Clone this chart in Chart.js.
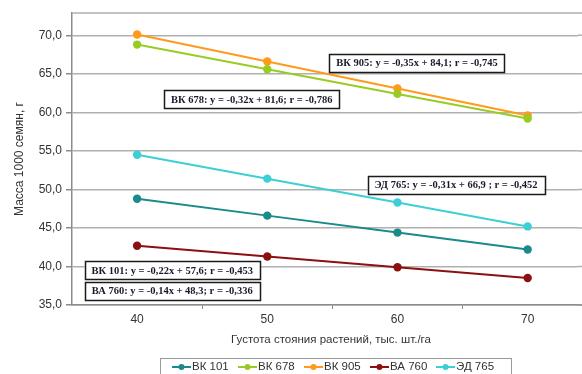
<!DOCTYPE html>
<html>
<head>
<meta charset="utf-8">
<script src="https://cdn.jsdelivr.net/npm/chart.js@4/dist/chart.umd.min.js"></script>
<style>
  html, body { margin: 0; padding: 0; background: #fff; overflow: hidden; }
  #wrap { width: 582px; height: 374px; position: relative; }
</style>
</head>
<body>
<div id="wrap"><canvas id="c" width="582" height="374"></canvas></div>
<script>
// Plant density, thousand plants per hectare
const densities = [40, 50, 60, 70];

// 1000-seed weight, g, per hybrid
const seriesNames = ['ВК 101', 'ВК 678', 'ВК 905', 'ВА 760', 'ЭД 765'];
const vk101 = [48.8, 46.6, 44.4, 42.2];
const vk678 = [68.8, 65.6, 62.4, 59.2];
const vk905 = [70.1, 66.6, 63.1, 59.6];
const va760 = [42.7, 41.3, 39.9, 38.5];
const ed765 = [54.5, 51.4, 48.3, 45.2];

// Axis ticks
const yTicks = [35, 40, 45, 50, 55, 60, 65, 70];
const xTicks = [40, 50, 60, 70];

// Regression equations shown on the plot
const equations = [
  'ВК 905: y = -0,35x + 84,1; r = -0,745',
  'ВК 678: y = -0,32x + 81,6; r = -0,786',
  'ЭД 765: y = -0,31x + 66,9 ; r = -0,452',
  'ВК 101: y = -0,22x + 57,6; r = -0,453',
  'ВА 760: y = -0,14x + 48,3; r = -0,336'
];

const seriesValues = [vk101, vk678, vk905, va760, ed765];
const seriesColors = ['#1b8a8a', '#99cc22', '#ff9a1a', '#8c1010', '#3ccfd6'];

const FONT = "'Liberation Sans', Arial, sans-serif";
const SERIF = "'Liberation Serif', 'Times New Roman', serif";

const datasets = seriesNames.map((name, i) => ({
  label: name,
  data: densities.map((d, j) => ({ x: d, y: seriesValues[i][j] })),
  borderColor: seriesColors[i],
  backgroundColor: seriesColors[i],
  pointBackgroundColor: seriesColors[i],
  pointBorderWidth: 0,
  pointRadius: 4.2,
  borderWidth: 2,
  tension: 0,
  fill: false
}));

// Frame line, gridline run-out to the canvas edge, equation boxes, axis titles and boxed legend
const decorations = {
  id: 'decorations',
  beforeDatasetsDraw(chart) {
    const { ctx, chartArea: a } = chart;
    const ys = chart.scales.y;
    ctx.save();
    ctx.strokeStyle = '#b0b0b0';
    ctx.lineWidth = 1.5;
    ctx.beginPath();
    ctx.moveTo(a.left, a.top);
    ctx.lineTo(chart.width, a.top);
    yTicks.forEach(v => {
      const py = ys.getPixelForValue(v);
      ctx.moveTo(a.right, py);
      ctx.lineTo(chart.width, py);
    });
    ctx.stroke();
    ctx.strokeStyle = '#8c8c8c';
    ctx.beginPath();
    ctx.moveTo(a.right, a.bottom);
    ctx.lineTo(chart.width, a.bottom);
    ctx.stroke();
    ctx.restore();
  },
  afterDatasetsDraw(chart, args, opts) {
    const { ctx } = chart;
    const xs = chart.scales.x, ys = chart.scales.y;
    ctx.save();
    ctx.font = 'bold 10.5px ' + SERIF;
    ctx.textBaseline = 'middle';
    ctx.textAlign = 'center';
    opts.anchors.forEach((pt, i) => {
      const cx = xs.getPixelForValue(pt[0]);
      const cy = ys.getPixelForValue(pt[1]);
      const w = ctx.measureText(equations[i]).width + 14;
      const h = 18;
      ctx.fillStyle = '#ffffff';
      ctx.fillRect(cx - w / 2, cy - h / 2, w, h);
      ctx.strokeStyle = '#1a1a1a';
      ctx.lineWidth = 1.5;
      ctx.strokeRect(Math.round(cx - w / 2) + 0.5, Math.round(cy - h / 2) + 0.5, Math.round(w), h);
      ctx.fillStyle = '#1a1a2e';
      ctx.fillText(equations[i], cx, cy + 0.5);
    });
    ctx.restore();
  },
  afterDraw(chart) {
    const { ctx, chartArea: a } = chart;
    ctx.save();
    ctx.fillStyle = '#333';
    ctx.textAlign = 'center';
    ctx.textBaseline = 'middle';
    ctx.font = '11.5px ' + FONT;
    ctx.fillText('Густота стояния растений, тыс. шт./га', 331, 340);

    ctx.translate(20, (a.top + a.bottom) / 2);
    ctx.rotate(-Math.PI / 2);
    ctx.font = '12px ' + FONT;
    ctx.fillText('Масса 1000 семян, г', 0, 0);
    ctx.restore();

    // legend
    ctx.save();
    ctx.strokeStyle = '#9a9a9a';
    ctx.lineWidth = 1;
    ctx.strokeRect(160.5, 358.5, 351, 30);
    ctx.font = '11.5px ' + FONT;
    ctx.textBaseline = 'middle';
    ctx.textAlign = 'left';
    chart.data.datasets.forEach((ds, i) => {
      const x0 = 172 + 66 * i;
      const y0 = 367;
      ctx.strokeStyle = ds.borderColor;
      ctx.lineWidth = 2;
      ctx.beginPath();
      ctx.moveTo(x0, y0);
      ctx.lineTo(x0 + 19, y0);
      ctx.stroke();
      ctx.fillStyle = ds.borderColor;
      ctx.beginPath();
      ctx.arc(x0 + 9.5, y0, 3, 0, Math.PI * 2);
      ctx.fill();
      ctx.fillStyle = '#333';
      ctx.fillText(ds.label, x0 + 20, y0);
    });
    ctx.restore();
  }
};

new Chart(document.getElementById('c'), {
  type: 'line',
  data: { datasets },
  plugins: [decorations],
  options: {
    responsive: false,
    devicePixelRatio: 1,
    animation: false,
    layout: { padding: { top: 13, right: 0, bottom: 0, left: 0 } },
    plugins: {
      legend: { display: false },
      tooltip: { enabled: false },
      decorations: {
        anchors: [[61.5, 66.4], [48.8, 61.7], [64.5, 50.6], [42.7, 39.5], [42.7, 36.8]]
      }
    },
    scales: {
      x: {
        type: 'linear',
        min: 35,
        max: 73.85,
        afterFit(scale) { scale.height = 69; },
        afterBuildTicks(scale) {
          const t = [];
          xTicks.forEach(v => { t.push({ value: v }); t.push({ value: v + 5 }); });
          scale.ticks = t.filter(o => o.value < 73);
        },
        grid: {
          drawOnChartArea: false,
          drawTicks: true,
          tickLength: 4,
          tickColor: c => (c.tick && c.tick.value % 10 === 5) ? '#888' : 'rgba(0,0,0,0)'
        },
        border: { color: '#8c8c8c', width: 1.5 },
        ticks: {
          autoSkip: false,
          maxRotation: 0,
          padding: 3,
          color: '#333',
          font: { family: FONT, size: 12 },
          callback: v => xTicks.includes(v) ? String(v) : ''
        }
      },
      y: {
        type: 'linear',
        min: 35,
        max: 72.9,
        afterFit(scale) { scale.width = 72; },
        afterBuildTicks(scale) { scale.ticks = yTicks.map(v => ({ value: v })); },
        grid: {
          color: '#b0b0b0',
          lineWidth: 1.5,
          tickLength: 6,
          tickColor: '#8c8c8c'
        },
        border: { color: '#8c8c8c', width: 1.5 },
        ticks: {
          padding: 4,
          color: '#333',
          font: { family: FONT, size: 12 },
          callback: v => v.toFixed(1).replace('.', ',')
        }
      }
    }
  }
});
</script>
</body>
</html>
